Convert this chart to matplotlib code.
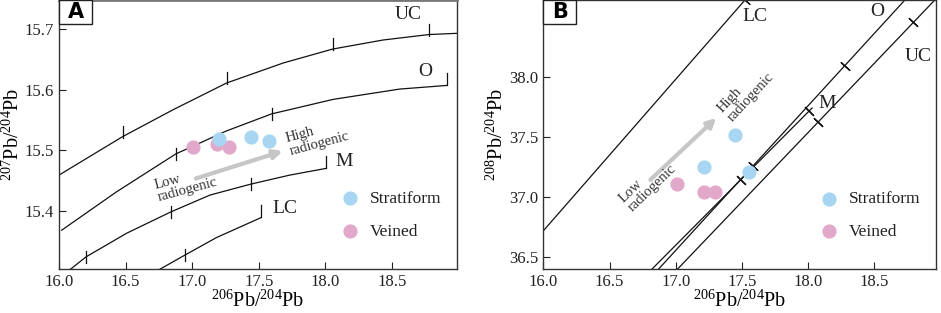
import numpy as np
import matplotlib
matplotlib.use("Agg")
import matplotlib.pyplot as plt
from matplotlib.patches import Rectangle

plt.rcParams['font.family'] = ['Liberation Serif', 'DejaVu Serif']
plt.rcParams['mathtext.fontset'] = 'custom'
plt.rcParams['mathtext.rm'] = 'Liberation Serif'

# 206Pb/204Pb - 207Pb/204Pb 성장곡선 (panel A)
uc_x = [16.0, 16.478, 16.858, 17.259, 17.684, 18.055, 18.435, 18.78, 18.99]
uc_y = [15.459, 15.5225, 15.567, 15.611, 15.644, 15.667, 15.682, 15.691, 15.693]
o_x = [16.02, 16.433, 16.878, 17.259, 17.597, 18.06, 18.56, 18.915]
o_y = [15.368, 15.4315, 15.494, 15.532, 15.560, 15.584, 15.601, 15.607]
m_x = [16.083, 16.203, 16.508, 16.838, 17.134, 17.439, 17.734, 18.005]
m_y = [15.303, 15.324, 15.363, 15.398, 15.426, 15.444, 15.459, 15.470]
lc_x = [16.753, 16.946, 17.184, 17.52]
lc_y = [15.303, 15.327, 15.356, 15.389]

uc_ticks = [16.478, 17.259, 18.055, 18.78]
o_ticks = [16.878, 17.597]
m_ticks = [16.203, 16.838, 17.439]
lc_ticks = [16.946]

# 시료 (panel A)
strat_206 = [17.20, 17.44, 17.577]
strat_207 = [15.519, 15.522, 15.516]
vein_206 = [17.008, 17.19, 17.28]
vein_207 = [15.506, 15.511, 15.506]

# 206Pb/204Pb - 208Pb/204Pb (panel B)
b_lc_x = [16.005, 17.523]
b_lc_y = [36.722, 38.639]
b_o_x = [16.869, 18.731]
b_o_y = [36.395, 38.639]
b_m_x = [16.819, 18.03]
b_m_y = [36.395, 37.739]
b_uc_x = [17.008, 18.957]
b_uc_y = [36.39, 38.639]

b_lc_ticks = [17.52]
b_o_ticks = [17.58, 18.277]
b_m_ticks = [17.49, 18.01]
b_uc_ticks = [18.076, 18.795]

strat_208 = [37.514, 37.25, 37.208]
strat_206b = [17.448, 17.213, 17.556]
vein_208 = [37.106, 37.036, 37.036]
vein_206b = [17.012, 17.213, 17.30]

blue = '#a8d6f2'
pink = '#e2a8ca'
arrow_c = '#c6c6c6'

fig = plt.figure(figsize=(9.41, 3.13), dpi=100)
axA = fig.add_axes([0.0627, 0.1406, 0.423, 0.8594])
axB = fig.add_axes([0.5774, 0.1396, 0.4173, 0.8604])

for ax in (axA, axB):
    ax.tick_params(direction='in', length=5, width=0.8, labelsize=12, colors='#222222')
    for s in ax.spines.values():
        s.set_linewidth(1.0)
        s.set_color('#333333')

# ---- A ----
ax = axA
for xs, ys in [(uc_x, uc_y), (o_x, o_y), (m_x, m_y), (lc_x, lc_y)]:
    ax.plot(xs, ys, color='#111111', lw=0.9)

def vticks(ax, xs, ys, tx, below, above):
    for t in tx:
        yv = np.interp(t, xs, ys)
        ax.plot([t, t], [yv - below, yv + above], color='#111111', lw=0.9)

vticks(ax, uc_x, uc_y, uc_ticks, 0.002, 0.018)
vticks(ax, o_x, o_y, o_ticks, 0.01, 0.01)
vticks(ax, m_x, m_y, m_ticks, 0.01, 0.01)
vticks(ax, lc_x, lc_y, lc_ticks, 0.01, 0.01)
# 끝부분 세로선
for xs, ys in [(o_x, o_y), (m_x, m_y), (lc_x, lc_y)]:
    ax.plot([xs[-1], xs[-1]], [ys[-1], ys[-1] + 0.021], color='#111111', lw=0.9)

ax.scatter(vein_206, vein_207, s=85, color=pink, zorder=3, label='Veined')
ax.scatter(strat_206, strat_207, s=85, color=blue, zorder=4, label='Stratiform')

ax.annotate('', xy=(17.70, 15.50), xytext=(17.008, 15.452),
            arrowprops=dict(arrowstyle='-|>', lw=3, color=arrow_c, mutation_scale=13))
ax.text(16.73, 15.432, 'Low\nradiogenic', rotation=15, fontsize=10.5, color='#333333',
        ha='left', va='center', rotation_mode='anchor', linespacing=1.0)
ax.text(17.72, 15.508, 'High\nradiogenic', rotation=15, fontsize=10.5, color='#333333',
        ha='left', va='center', rotation_mode='anchor', linespacing=1.0)

ax.text(18.62, 15.724, 'UC', fontsize=14, ha='center', va='center', color='#222222')
ax.text(18.75, 15.63, 'O', fontsize=14, ha='center', va='center', color='#222222')
ax.text(18.14, 15.481, 'M', fontsize=14, ha='center', va='center', color='#222222')
ax.text(17.70, 15.404, 'LC', fontsize=14, ha='center', va='center', color='#222222')

ax.set_xlim(16.0, 18.99)
ax.set_ylim(15.304, 15.748)
ax.set_xticks([16.0, 16.5, 17.0, 17.5, 18.0, 18.5])
ax.set_yticks([15.4, 15.5, 15.6, 15.7])
ax.set_xlabel(r'$^{206}$Pb/$^{204}$Pb', fontsize=14.5, labelpad=0)
ax.set_ylabel(r'$^{207}$Pb/$^{204}$Pb', fontsize=14.5, labelpad=1)
ax.spines['top'].set_color('#777777')
ax.spines['top'].set_linewidth(2)

# ---- B ----
ax = axB
for xs, ys in [(b_lc_x, b_lc_y), (b_o_x, b_o_y), (b_m_x, b_m_y), (b_uc_x, b_uc_y)]:
    ax.plot(xs, ys, color='#111111', lw=0.9)

def cross_ticks(ax, xs, ys, tx):
    slope = (ys[1] - ys[0]) / (xs[1] - xs[0])
    ang = np.degrees(np.arctan(slope * 120 / 132.4))
    ty = np.interp(tx, xs, ys)
    ax.plot(tx, ty, ls='none', marker=(2, 2, ang), ms=9, mew=0.9, color='#111111')

cross_ticks(ax, b_lc_x, b_lc_y, b_lc_ticks)
cross_ticks(ax, b_o_x, b_o_y, b_o_ticks)
cross_ticks(ax, b_m_x, b_m_y, b_m_ticks)
cross_ticks(ax, b_uc_x, b_uc_y, b_uc_ticks)

ax.scatter(vein_206b, vein_208, s=85, color=pink, zorder=3, label='Veined')
ax.scatter(strat_206b, strat_208, s=85, color=blue, zorder=4, label='Stratiform')

ax.annotate('', xy=(17.322, 37.672), xytext=(16.793, 37.125),
            arrowprops=dict(arrowstyle='-|>', lw=3, color=arrow_c, mutation_scale=13))
ax.text(16.62, 36.93, 'Low\nradiogenic', rotation=44, fontsize=10.5, color='#333333',
        ha='left', va='center', rotation_mode='anchor', linespacing=1.0)
ax.text(17.37, 37.68, 'High\nradiogenic', rotation=47, fontsize=10.5, color='#333333',
        ha='left', va='center', rotation_mode='anchor', linespacing=1.0)

ax.text(17.60, 38.5, 'LC', fontsize=14, ha='center', va='center', color='#222222')
ax.text(18.52, 38.54, 'O', fontsize=14, ha='center', va='center', color='#222222')
ax.text(18.83, 38.17, 'UC', fontsize=14, ha='center', va='center', color='#222222')
ax.text(18.14, 37.78, 'M', fontsize=14, ha='center', va='center', color='#222222')

ax.set_xlim(16.0, 18.966)
ax.set_ylim(36.395, 38.639)
ax.set_xticks([16.0, 16.5, 17.0, 17.5, 18.0, 18.5])
ax.set_yticks([36.5, 37.0, 37.5, 38.0])
ax.set_xlabel(r'$^{206}$Pb/$^{204}$Pb', fontsize=14.5, labelpad=0)
ax.set_ylabel(r'$^{208}$Pb/$^{204}$Pb', fontsize=14.5, labelpad=1)

# 범례와 패널 라벨
for ax, lab in [(axA, 'A'), (axB, 'B')]:
    h, l = ax.get_legend_handles_labels()
    ax.legend(h[::-1], l[::-1], loc='center right', bbox_to_anchor=(0.99, 0.20), frameon=False,
              fontsize=12.5, labelspacing=0.95, handlelength=1.0, handletextpad=0.6,
              borderpad=0.2, labelcolor='#222222')
    ax.add_patch(Rectangle((0.0, 0.911), 0.084, 0.089, transform=ax.transAxes,
                           fc='white', ec='#222222', lw=1, zorder=5, clip_on=False))
    ax.text(0.042, 0.955, lab, transform=ax.transAxes, ha='center', va='center',
            fontsize=15, fontweight='bold', family='DejaVu Sans', zorder=6)

fig.savefig('out.png', dpi=100)
